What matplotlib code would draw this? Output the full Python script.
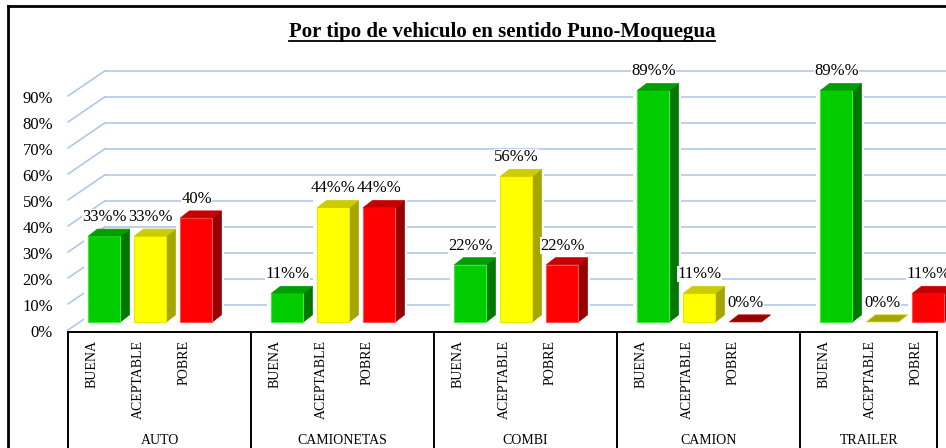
import matplotlib.pyplot as plt
from matplotlib.patches import Polygon
from matplotlib.lines import Line2D

plt.rcParams["font.family"] = ["Liberation Serif", "DejaVu Serif"]

categorias = ["AUTO", "CAMIONETAS", "COMBI", "CAMION", "TRAILER"]
niveles = ["BUENA", "ACEPTABLE", "POBRE"]
buena = [33, 11, 22, 89, 89]
aceptable = [33, 44, 56, 11, 0]
pobre = [40, 44, 22, 0, 11]
# texto que acompaña a cada valor en la etiqueta
sufijo_buena = ["%%", "%%", "%%", "%%", "%%"]
sufijo_aceptable = ["%%", "%%", "%%", "%%", "%%"]
sufijo_pobre = ["%", "%%", "%%", "%%", "%%"]
marcas_y = [0, 10, 20, 30, 40, 50, 60, 70, 80, 90]

# frente, lateral, tapa, borde
colores = {
    "BUENA": ("#00cc00", "#007800", "#009e00", "#3cec3c"),
    "ACEPTABLE": ("#ffff00", "#a6a600", "#cccc00", "#e8e800"),
    "POBRE": ("#ff0000", "#960000", "#c40000", "#ff5050"),
}
azul = "#a9c4eb"

W, H = 946, 448
xmin, xmax = -0.822, 4.347
ymin, ymax = -48.5, 123.8
sx = (xmax - xmin) / W   # unidades por pixel
sy = (ymax - ymin) / H

fig = plt.figure(figsize=(W / 100, H / 100), dpi=100)
ax = fig.add_axes([0, 0, 1, 1])
ax.set_xlim(xmin, xmax)
ax.set_ylim(ymin, ymax)
ax.axis("off")

ancho = 32 * sx
paso = 46 * sx
dx, dy = 9 * sx, 7 * sy

# pared del fondo y pared lateral
x_frente, x_fondo = -0.45, -0.25
for v in marcas_y:
    ax.plot([x_fondo, xmax], [v + 6.5, v + 6.5], color=azul, lw=1.1, zorder=1)
    ax.plot([x_frente, x_fondo], [v - 3.1, v + 6.5], color=azul, lw=1.1, zorder=1)
    ax.text(x_frente - 15 * sx, v - 4.3, f"{v}%", ha="right", va="center",
            fontsize=12)

series = [buena, aceptable, pobre]
sufijos = [sufijo_buena, sufijo_aceptable, sufijo_pobre]
for j, (nivel, valores, sufijo) in enumerate(zip(niveles, series, sufijos)):
    frente, lateral, tapa, borde = colores[nivel]
    xs = [i + (j - 1) * paso for i in range(len(categorias))]
    barras = ax.bar(xs, valores, width=ancho, color=frente, edgecolor=borde,
                    linewidth=0.8, zorder=4)
    for rect, v, s in zip(barras, valores, sufijo):
        x0 = rect.get_x()
        x1 = x0 + rect.get_width()
        h = rect.get_height()
        # hueco blanco que tapa la cuadricula detras de la barra
        ax.add_patch(Polygon([(x0 - 4 * sx, 0), (x1 + dx + 3 * sx, 0),
                              (x1 + dx + 3 * sx, h + dy), (x0 - 4 * sx, h + dy)],
                             closed=True, facecolor="white", edgecolor="none",
                             zorder=2))
        if h > 0:
            ax.add_patch(Polygon([(x1, 0), (x1 + dx, dy), (x1 + dx, h + dy), (x1, h)],
                                 closed=True, facecolor=lateral, edgecolor=lateral,
                                 lw=0.5, zorder=3))
            ax.add_patch(Polygon([(x0, h), (x1, h), (x1 + dx, h + dy), (x0 + dx, h + dy)],
                                 closed=True, facecolor=tapa, edgecolor=tapa,
                                 lw=0.5, zorder=5))
        else:
            rect.set_visible(False)
            ax.add_patch(Polygon([(x0, 0), (x1, 0), (x1 + dx, dy), (x0 + dx, dy)],
                                 closed=True, facecolor=lateral, edgecolor=tapa,
                                 lw=0.6, zorder=5))
        ax.text((x0 + x1) / 2, h + 4.3, f"{v}{s}", ha="center", va="bottom",
                fontsize=12, zorder=6,
                bbox=dict(facecolor="white", edgecolor="none", pad=0.3))

# tabla de categorias
y_tabla = -3.85
x_der = 4.30
bordes = [x_frente + i for i in range(len(categorias))] + [x_der]
ax.plot([bordes[0], x_der], [y_tabla, y_tabla], color="black", lw=1.4, zorder=7)
for b in bordes:
    ax.plot([b, b], [y_tabla, ymin], color="black", lw=1.4, zorder=7)
for i, cat in enumerate(categorias):
    for j, nivel in enumerate(niveles):
        ax.text(i + (j - 1) * paso - 12 * sx, -6.9, nivel, rotation=90,
                ha="center", va="top", fontsize=10)
    ax.text((bordes[i] + bordes[i + 1]) / 2, -45.8, cat, ha="center",
            va="center", fontsize=10)

# marco exterior
fig.add_artist(Line2D([8 / W, 8 / W], [0, 1 - 6 / H], transform=fig.transFigure,
                      color="black", lw=2))
fig.add_artist(Line2D([8 / W, 1], [1 - 6 / H, 1 - 6 / H], transform=fig.transFigure,
                      color="black", lw=2))

titulo = fig.text(502 / W, 1 - 32 / H, "Por tipo de vehiculo en sentido Puno-Moquegua",
                  ha="center", va="center", fontsize=15, fontweight="bold")
fig.canvas.draw()
bb = titulo.get_window_extent()
fig.add_artist(Line2D([bb.x0 / W, bb.x1 / W], [(bb.y0 + 1) / H, (bb.y0 + 1) / H],
                      transform=fig.transFigure, color="black", lw=1.3))

fig.savefig("out.png", dpi=100)
